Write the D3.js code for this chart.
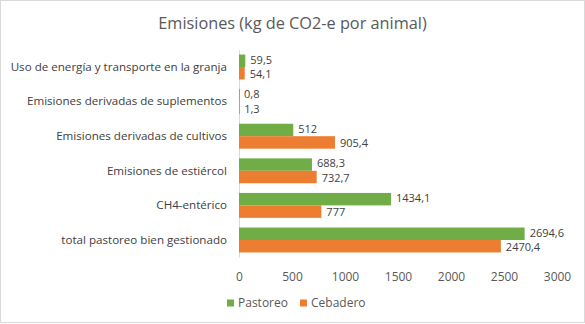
<!DOCTYPE html>
<html><head><meta charset="utf-8">
<script src="https://cdn.jsdelivr.net/npm/d3@7"></script>
<style>body{margin:0;background:#fff}svg{display:block}text{font-family:"Open Sans",sans-serif}</style>
</head><body><svg id="c" width="585" height="324"></svg>
<script>
const title = "Emisiones (kg de CO2-e por animal)";
const categories = ["Uso de energía y transporte en la granja","Emisiones derivadas de suplementos","Emisiones derivadas de cultivos","Emisiones de estiércol","CH4-entérico","total pastoreo bien gestionado"];
const seriesNames = ["Pastoreo","Cebadero"];
const pastoreo = [59.5, 0.8, 512, 688.3, 1434.1, 2694.6];
const cebadero = [54.1, 1.3, 905.4, 732.7, 777, 2470.4];
const ticks = [0,500,1000,1500,2000,2500,3000];
const colors = ["#70AD47","#ED7D31"];

const svg = d3.select("#c");
svg.append("rect").attr("x",0.5).attr("y",0.5).attr("width",584).attr("height",322).attr("fill","#fff").attr("stroke","#d9d9d9");
svg.append("text").attr("x",292.5).attr("y",29).attr("text-anchor","middle").attr("font-size",16.3).attr("fill","#595959").text(title);

const x = d3.scaleLinear().domain([0,3000]).range([239,557]);
const y = d3.scaleBand().domain(categories).range([49.7,257.3]).paddingInner(0.28).paddingOuter(0.14);
const sub = d3.scaleBand().domain(seriesNames).range([0,y.bandwidth()]);
const fmt = v => String(v).replace(".",",");

const xAxis = d3.axisBottom(x).tickValues(ticks).tickFormat(d3.format("d")).tickSize(0).tickPadding(0);
const gx = svg.append("g").attr("transform","translate(0,272)").call(xAxis);
gx.select(".domain").remove();
gx.selectAll("text").attr("font-size",12).attr("fill","#595959").attr("font-family","Open Sans");

const yAxis = d3.axisLeft(y).tickSize(0).tickPadding(12);
const gy = svg.append("g").attr("transform","translate(239,0)").call(yAxis);
gy.select(".domain").attr("stroke","#d9d9d9");
gy.selectAll("text").attr("font-size",11.6).attr("fill","#404040").attr("font-family","Open Sans");

const data = [pastoreo, cebadero];
data.forEach((vals,si)=>{
  const g = svg.append("g");
  g.selectAll("rect").data(vals).join("rect")
    .attr("x",x(0)).attr("y",(d,i)=>y(categories[i])+sub(seriesNames[si]))
    .attr("width",d=>Math.max(x(d)-x(0),0.8)).attr("height",sub.bandwidth())
    .attr("fill",colors[si]);
  g.selectAll("text").data(vals).join("text")
    .attr("x",d=>x(d)+5).attr("y",(d,i)=>y(categories[i])+sub(seriesNames[si])+sub.bandwidth()/2 + (si===0?-1:1))
    .attr("dy","0.35em").attr("font-size",11).attr("fill","#404040").text(fmt);
});

const leg = svg.append("g").attr("transform","translate(0,303)");
const legX = [227,300];
seriesNames.forEach((n,i)=>{
  leg.append("rect").attr("x",legX[i]).attr("y",-3.5).attr("width",7).attr("height",7).attr("fill",colors[i]);
  leg.append("text").attr("x",legX[i]+11).attr("y",0).attr("dy","0.35em").attr("font-size",12).attr("fill","#595959").text(n);
});
</script></body></html>
